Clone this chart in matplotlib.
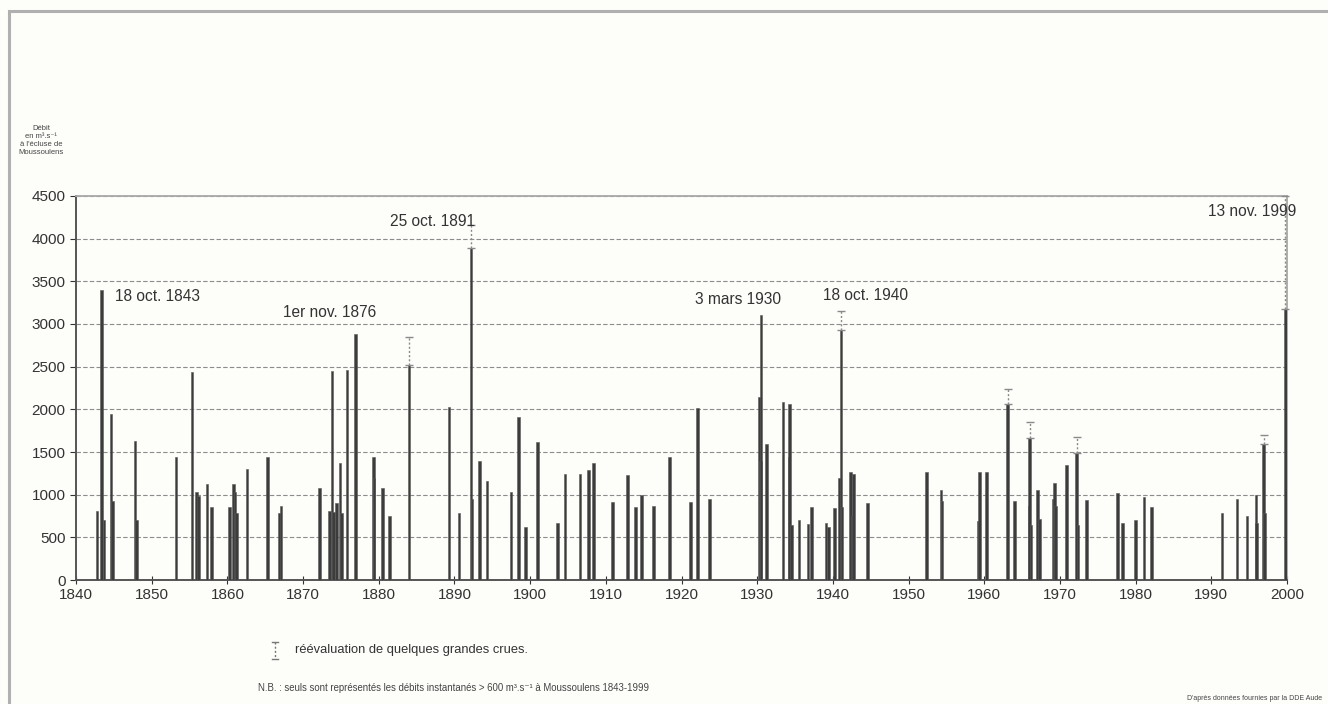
import matplotlib
matplotlib.use("Agg")
import matplotlib.pyplot as plt
from matplotlib.lines import Line2D
from matplotlib.patches import Rectangle
import numpy as np

plt.rcParams['font.family'] = ['Liberation Sans', 'DejaVu Sans']

# ---- data -------------------------------------------------------------
years = [1842.8, 1843.4, 1843.7, 1844.6, 1844.8, 1847.8, 1848.0, 1853.2, 1855.3, 1855.9,
         1856.2, 1857.3, 1857.9, 1860.3, 1860.8, 1861.0, 1861.2, 1862.6, 1865.3, 1866.9,
         1867.1, 1872.2, 1873.5, 1873.8, 1874.0, 1874.4, 1874.9, 1875.1, 1875.8, 1876.9,
         1879.3, 1879.4, 1880.5, 1881.4, 1884.0, 1889.3, 1890.6, 1892.2, 1892.3, 1893.3,
         1894.3, 1897.5, 1898.5, 1899.4, 1901.0, 1903.6, 1904.6, 1906.6, 1907.7, 1908.4,
         1910.9, 1912.9, 1913.9, 1914.7, 1916.3, 1918.4, 1921.2, 1922.1, 1923.7, 1930.3,
         1930.4, 1930.5, 1931.2, 1933.4, 1934.2, 1934.3, 1934.5, 1935.5, 1936.7, 1937.2,
         1939.1, 1939.4, 1940.2, 1940.9, 1941.1, 1941.2, 1942.3, 1942.5, 1942.7, 1944.6,
         1952.4, 1954.3, 1954.4, 1959.2, 1959.4, 1960.3, 1963.1, 1964.0, 1965.9, 1966.0,
         1966.2, 1967.0, 1967.3, 1969.1, 1969.3, 1969.4, 1970.9, 1972.2, 1972.4, 1973.5,
         1977.6, 1978.3, 1980.0, 1981.1, 1982.1, 1991.4, 1993.4, 1994.7, 1995.9, 1996.0,
         1996.9, 1997.0, 1999.8]
debits = [810, 3400, 700, 1950, 930, 1630, 700, 1440, 2440, 1030,
          990, 1130, 860, 860, 1130, 1030, 780, 1300, 1440, 780,
          870, 1080, 810, 2450, 800, 900, 1370, 780, 2460, 2880,
          1440, 1200, 1080, 750, 2520, 2030, 780, 3890, 950, 1390,
          1160, 1030, 1910, 620, 1620, 670, 1240, 1240, 1290, 1370,
          910, 1230, 860, 1000, 870, 1440, 910, 2020, 950, 2150,
          1400, 3100, 1590, 2090, 1440, 2060, 650, 700, 660, 860,
          670, 620, 840, 1200, 2930, 850, 1260, 750, 1240, 900,
          1260, 1050, 930, 690, 1270, 1270, 2060, 930, 870, 1660,
          650, 1060, 710, 950, 1140, 870, 1350, 1490, 650, 940,
          1020, 670, 700, 970, 860, 780, 950, 750, 1000, 670,
          1590, 780, 3170]

# re-evaluated large floods: year, measured value, re-evaluated value
reeval_years = [1884.0, 1892.2, 1941.1, 1963.1, 1966.0, 1972.2, 1996.9, 1999.8]
reeval_base = [2520, 3890, 2930, 2060, 1660, 1490, 1590, 3170]
reeval_top = [2850, 4160, 3150, 2240, 1850, 1680, 1700, 4500]

annot_labels = ["18 oct. 1843", "1er nov. 1876", "25 oct. 1891",
                "3 mars 1930", "18 oct. 1940", "13 nov. 1999"]
annot_x = [1845.2, 1867.4, 1881.5, 1921.8, 1938.7, 1989.5]
annot_y = [3318, 3130, 4197, 3282, 3329, 4314]

xticks = list(range(1840, 2001, 10))
yticks = list(range(0, 4501, 500))

# ---- figure -----------------------------------------------------------
W, H = 1328, 704
bg = '#fdfdfa'
fig = plt.figure(figsize=(W / 100, H / 100), dpi=100, facecolor=bg)

# outer frame
fig.add_artist(Rectangle((9 / W, -0.05), 1.2, (H - 11) / H + 0.05, transform=fig.transFigure,
                         fill=False, edgecolor='#b0b0b0', linewidth=2.2))

ax = fig.add_axes([76 / W, 1 - 580 / H, (1287 - 76) / W, (580 - 196) / H], facecolor=bg)

ax.bar(years, debits, width=0.34, color='#3c3c3c', edgecolor='#5a5a5a', linewidth=0.4, zorder=3)

eb = ax.errorbar(reeval_years, reeval_base,
                 yerr=[np.zeros(len(reeval_base)), np.array(reeval_top) - np.array(reeval_base)],
                 fmt='none', ecolor='#8a8a8a', elinewidth=1.0, capsize=3, capthick=1.0, zorder=4)
eb[2][0].set_linestyle((0, (1.5, 1.5)))
for c in eb[1]:
    c.set_clip_on(False)
eb[2][0].set_clip_on(False)

for lbl, x, y in zip(annot_labels, annot_x, annot_y):
    ax.text(x, y, lbl, fontsize=11.2, color='#333333', ha='left', va='center', zorder=5)

ax.set_xlim(1840, 2000)
ax.set_ylim(0, 4500)
ax.set_xticks(xticks)
ax.set_yticks(yticks)
ax.tick_params(axis='both', labelsize=11, colors='#333333', length=4, width=0.8)
ax.tick_params(axis='x', direction='inout', length=6, pad=3)
ax.yaxis.grid(True, linestyle=(0, (4, 2)), color='#8c8c8c', linewidth=0.8, zorder=1)

for s in ['left', 'bottom']:
    ax.spines[s].set_color('#555555')
    ax.spines[s].set_linewidth(1.4)
for s in ['top', 'right']:
    ax.spines[s].set_color('#a8a8a8')
    ax.spines[s].set_linewidth(1.3)

# y-axis title (top left)
fig.text(41 / W, 1 - 141 / H, "Débit\nen m³.s⁻¹\nà l'écluse de\nMoussoulens",
         fontsize=5.5, color='#444444', ha='center', va='center', linespacing=1.2)

# legend symbol
lx, ly1, ly2 = 275 / W, 1 - 642 / H, 1 - 659 / H
fig.add_artist(Line2D([lx, lx], [ly1, ly2], transform=fig.transFigure, color='#777777',
                      linewidth=1, linestyle=(0, (1.5, 1.5))))
for yy in (ly1, ly2):
    fig.add_artist(Line2D([lx - 3 / W, lx + 3 / W], [yy, yy], transform=fig.transFigure,
                          color='#777777', linewidth=1))
fig.text(295 / W, 1 - 650 / H, "réévaluation de quelques grandes crues.", fontsize=9.3,
         color='#333333', ha='left', va='center')

fig.text(258 / W, 1 - 688 / H,
         "N.B. : seuls sont représentés les débits instantanés > 600 m³.s⁻¹ à Moussoulens 1843-1999",
         fontsize=6.9, color='#444444', ha='left', va='center')

fig.text(1322 / W, 1 - 698 / H, "D'après données fournies par la DDE Aude", fontsize=5,
         color='#444444', ha='right', va='center')

fig.savefig('out.png', dpi=100, facecolor=bg)
